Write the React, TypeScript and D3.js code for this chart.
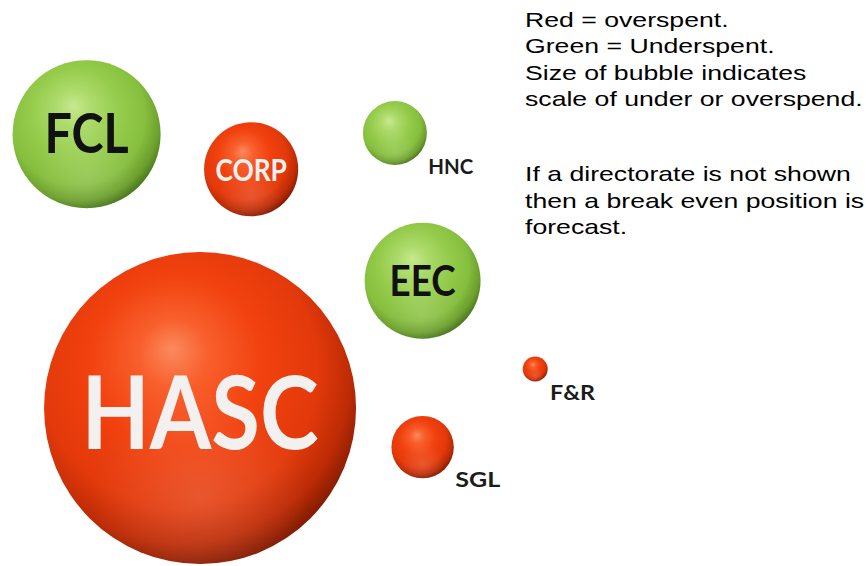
import * as d3 from "d3";
import { useEffect, useRef } from "react";

// directorate bubbles (value = size of under/overspend, relative units)
const directorates = ["HASC", "FCL", "EEC", "CORP", "HNC", "SGL", "F&R"];
const spendValues = [100, 22.5, 13.8, 9.1, 4.2, 4.0, 0.64];
const status = ["over", "under", "under", "over", "under", "over", "over"];
// layout position in percent of the canvas
const layoutX = [23.1, 10.0, 48.8, 29.0, 45.6, 48.8, 61.8];
const layoutY = [72.1, 23.7, 49.6, 29.9, 23.5, 79.0, 65.2];

const legendParagraphs = [
  ["Red = overspent.", "Green = Underspent.", "Size of bubble indicates", "scale of under or overspend."],
  ["If a directorate is not shown", "then a break even position is", "forecast."],
];

const width = 866;
const height = 566;

export default function App() {
  const svgRef = useRef<SVGSVGElement>(null);

  useEffect(() => {
    if (!svgRef.current) return;
    const svg = d3.select(svgRef.current);
    svg.selectAll("*").remove();

    const xScale = d3.scaleLinear().domain([0, 100]).range([0, width]);
    const yScale = d3.scaleLinear().domain([0, 100]).range([0, height]);
    const rScale = d3.scaleSqrt().domain([0, 100]).range([0, 156]);

    const data = directorates.map((name, i) => ({
      name,
      value: spendValues[i],
      status: status[i],
      cx: xScale(layoutX[i]),
      cy: yScale(layoutY[i]),
      r: rScale(spendValues[i]),
    }));

    // Gradients
    const defs = svg.append("defs");
    const gradients = {
      over: [
        [0, "#fb8a5e"],
        [0.18, "#f85f2c"],
        [0.45, "#f1410e"],
        [0.72, "#e3390b"],
        [0.88, "#bd2b05"],
        [1, "#7e1a02"],
      ],
      under: [
        [0, "#c6e98e"],
        [0.2, "#addb6c"],
        [0.5, "#94cb4a"],
        [0.75, "#86be3e"],
        [0.9, "#6c9f2d"],
        [1, "#46721b"],
      ],
    };
    Object.entries(gradients).forEach(([key, stops]) => {
      const g = defs
        .append("radialGradient")
        .attr("id", `grad-${key}`)
        .attr("cx", 0.44)
        .attr("cy", 0.4)
        .attr("r", 0.62)
        .attr("fx", 0.41)
        .attr("fy", 0.31);
      g.selectAll("stop")
        .data(stops)
        .enter()
        .append("stop")
        .attr("offset", (d) => `${(d[0] as number) * 100}%`)
        .attr("stop-color", (d) => d[1] as string);
    });
    // soft reflected light near the bottom
    const glow = defs
      .append("radialGradient")
      .attr("id", "grad-glow")
      .attr("cx", 0.5)
      .attr("cy", 0.78)
      .attr("r", 0.35);
    glow.append("stop").attr("offset", "0%").attr("stop-color", "#ffffff").attr("stop-opacity", 0.14);
    glow.append("stop").attr("offset", "100%").attr("stop-color", "#ffffff").attr("stop-opacity", 0);

    const bubbles = svg
      .append("g")
      .selectAll("g")
      .data(data)
      .enter()
      .append("g")
      .attr("transform", (d) => `translate(${d.cx},${d.cy})`);

    bubbles
      .append("circle")
      .attr("r", (d) => d.r)
      .style("fill", (d) => `url(#grad-${d.status})`);

    bubbles
      .append("circle")
      .attr("r", (d) => d.r)
      .style("fill", "url(#grad-glow)");

    // labels inside the large bubbles
    const inside = bubbles.filter((d) => d.r > 40);
    inside
      .append("text")
      .attr("text-anchor", "middle")
      .attr("dy", (d) => d.r * 0.26)
      .attr("textLength", (d) => 0.38 * d.r * d.name.length)
      .attr("lengthAdjust", "spacingAndGlyphs")
      .style("font-family", "Lato, 'Open Sans', sans-serif")
      .style("font-weight", 700)
      .style("font-size", (d) => `${d.r * (d.name.length > 3 ? 0.65 : 0.74)}px`)
      .style("fill", (d) => (d.status === "over" ? "#f3f1f0" : "#111111"))
      .text((d) => d.name);

    // labels beside the small bubbles
    const outside = bubbles.filter((d) => d.r <= 40);
    outside
      .append("text")
      .attr("x", (d) => d.r * 0.95 + 3)
      .attr("y", (d) => Math.max(d.r, 22) + 9)
      .attr("textLength", (d) => d.name.length * 15)
      .attr("lengthAdjust", "spacingAndGlyphs")
      .style("font-family", "Lato, 'Open Sans', sans-serif")
      .style("font-weight", 700)
      .style("font-size", "21px")
      .style("fill", "#1b1b1b")
      .text((d) => d.name);

    // explanatory note (horizontally stretched like the source)
    const note = svg
      .append("g")
      .style("font-family", "'Liberation Sans', Arial, sans-serif")
      .style("font-size", "20.5px")
      .style("fill", "#000");
    let lineIndex = 0;
    legendParagraphs.forEach((para, p) => {
      para.forEach((line) => {
        note
          .append("text")
          .attr("transform", `translate(525,${27 + lineIndex * 26.3 + p * 49}) scale(1.3,1)`)
          .text(line);
        lineIndex++;
      });
    });
  }, []);

  return (
    <div style={{ position: "absolute", left: 0, top: 0, width, height, background: "#fff" }}>
      <svg ref={svgRef} width={width} height={height} />
    </div>
  );
}
